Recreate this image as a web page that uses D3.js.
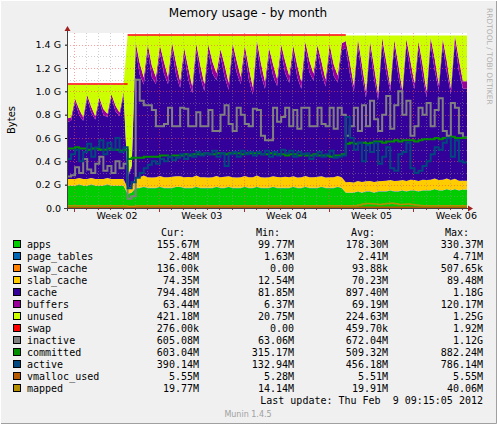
<!DOCTYPE html>
<html>
<head>
<meta charset="utf-8">
<script src="https://cdn.jsdelivr.net/npm/d3@7"></script>
<style>
  body { margin: 0; background: #f0f0f0; }
  svg { display: block; }
  text { font-family: "DejaVu Sans", sans-serif; }
  .mono { font-family: "DejaVu Sans Mono", monospace; font-size: 10px; fill: #000; }
</style>
</head>
<body>
<div id="chart"></div>
<script>
// samples every 1/3 day, values in G
// seg1 (15) | switch (2) | seg2 (52) | seg3 (30)
const apps = [
  .19,.19,.19,.20,.19,.19,.20,.19,.19,.19,.20,.19,.19,.19,.19,
  .12,.13,
  .17,.17,.18,.17,.17,.17,.18,.17,.17,.17, .18,.18,.17,.17,.17,.18,.17,.17,.17,.17,
  .18,.17,.17,.18,.17,.17,.17,.18,.17,.17, .18,.17,.17,.17,.18,.17,.17,.17,.17,.18,
  .17,.17,.18,.17,.17,.17,.18,.17,.17,.17, .18,.17,
  .13,.13,.13,.14,.13,.14,.14,.13,.14,.14, .14,.15,.14,.14,.15,.14,.15,.15,.14,.15,
  .15,.15,.16,.15,.15,.16,.15,.16,.15,.156
];
const page_tables = [
  .003,.003,.003,.003,.003,.003,.003,.003,.003,.003,.003,.003,.003,.003,.003,
  .002,.002,
  .003,.003,.003,.003,.003,.003,.003,.003,.003,.003, .003,.003,.003,.003,.003,.003,.003,.003,.003,.003,
  .003,.003,.003,.003,.003,.003,.003,.003,.003,.003, .003,.003,.003,.003,.003,.003,.003,.003,.003,.003,
  .003,.003,.003,.003,.003,.003,.003,.003,.003,.003, .003,.003,
  .003,.003,.003,.003,.003,.003,.003,.003,.003,.003, .003,.003,.003,.003,.003,.003,.003,.003,.003,.003,
  .003,.003,.003,.003,.003,.003,.003,.003,.003,.0025
];
const swap_cache = [
  0,0,0,0,0,0,0,0,0,0,0,0,0,0,0,
  0,0,
  .0001,.0001,.0001,.0001,.0001,.0001,.0001,.0001,.0001,.0001, .0001,.0001,.0001,.0001,.0001,.0001,.0001,.0001,.0001,.0001,
  .0001,.0001,.0001,.0001,.0001,.0001,.0001,.0001,.0001,.0001, .0001,.0001,.0001,.0001,.0001,.0001,.0001,.0001,.0001,.0001,
  .0001,.0001,.0001,.0001,.0001,.0001,.0001,.0001,.0001,.0001, .0001,.0001,
  .0001,.0001,.0001,.0001,.0001,.0001,.0001,.0001,.0001,.0001, .0001,.0001,.0001,.0001,.0001,.0001,.0001,.0001,.0001,.0001,
  .0001,.0001,.0001,.0001,.0001,.0001,.0001,.0001,.0001,.0001
];
const slab_cache = [
  .055,.055,.056,.055,.055,.056,.055,.055,.055,.056,.055,.055,.056,.055,.055,
  .05,.05,
  .09,.09,.095,.09,.088,.09,.092,.09,.09,.095, .09,.088,.09,.092,.09,.095,.09,.09,.088,.09,
  .092,.09,.095,.09,.09,.088,.09,.092,.09,.09, .095,.09,.088,.09,.09,.092,.09,.095,.09,.09,
  .088,.09,.092,.09,.09,.095,.09,.088,.09,.09, .092,.09,
  .088,.09,.086,.088,.09,.087,.088,.09,.086,.088, .09,.087,.088,.09,.086,.088,.09,.087,.088,.09,
  .086,.088,.09,.087,.088,.09,.086,.088,.08,.074
];
const cache = [
  .49,.50,.66,.54,.50,.69,.56,.51,.67,.55,.52,.70,.58,.54,.72,
  .09,.16,
  1.10,.88,.78, 1.08,.86,.80, 1.06,.89,.80, 1.09,.87,.76, 1.05,.84,.72, 1.07,.86,.74,
  1.08,.89,.82, 1.04,.86,.74, 1.09,.90,.80, 1.06,.84,.71, 1.10,.88,.76, 1.05,.86,.78,
  1.08,.89,.81, 1.06,.86,.76, 1.09,.90,.83, 1.07,.88,.78, 1.08,.87,.80, 1.09,
  1.15,.93,.78, 1.16,.91,.72, 1.14,.89,.70, 1.17,.93,.76, 1.15,.90,.72,
  1.16,.92,.78, 1.14,.89,.71, 1.16,.93,.77, 1.15,.91,.74, 1.17,.94,.79
];
const buffers = [
  .03,.03,.03,.05,.03,.03,.05,.03,.03,.05,.03,.03,.05,.03,.03,
  .01,.02,
  .06,.10,.06, .06,.10,.06, .06,.10,.06, .06,.10,.06, .06,.10,.06, .06,.10,.06,
  .06,.10,.06, .06,.10,.06, .06,.10,.06, .06,.10,.06, .06,.10,.06, .06,.10,.06,
  .06,.10,.06, .06,.10,.06, .06,.10,.06, .06,.10,.06, .06,.10,.06, .06,
  .06,.10,.05, .06,.10,.05, .06,.10,.05, .06,.10,.05, .06,.10,.05,
  .06,.10,.05, .06,.10,.05, .06,.10,.05, .06,.10,.05, .06,.10,.063
];
const swap = [
  .0015,.0015,.0015,.0015,.0015,.0015,.0015,.0015,.0015,.0015,.0015,.0015,.0015,.0015,.0015,
  .0015,.0015,
  .0015,.0015,.0015,.0015,.0015,.0015,.0015,.0015,.0015,.0015, .0015,.0015,.0015,.0015,.0015,.0015,.0015,.0015,.0015,.0015,
  .0015,.0015,.0015,.0015,.0015,.0015,.0015,.0015,.0015,.0015, .0015,.0015,.0015,.0015,.0015,.0015,.0015,.0015,.0015,.0015,
  .0015,.0015,.0015,.0015,.0015,.0015,.0015,.0015,.0015,.0015, .0015,.0015,
  0,0,0,0,0,0,0,0,0,0, 0,0,0,0,0,0,0,0,0,0, 0,0,0,0,0,0,0,0,0,0
];
// physical RAM before / after the upgrade, and the sample where it changes
const ramTotal = [1.057, 1.478];
const ramChangeAt = 15;

const inactive = [
  .27,.28,.35,.30,.42,.33,.30,.38,.44,.32,.36,.30,.40,.34,.38,
  .08,.10,
  1.10,.92,.88,.88,.84,.70,.70,.72,.86,.70, .70,.86,.85,.70,.70,.82,.70,.70,.84,.66,
  .66,.80,.88,.72,.66,.86,.80,.72,.70,.85, .84,.62,.58,.58,.86,.74,.78,.86,.70,.84,
  .68,.86,.86,.70,.70,.86,.72,.70,.86,.68, .86,.80,
  .62,.70,.86,.66,.88,.70,.92,.76,.66,.80, .96,.68,.88,1.0,.80,.92,.62,.70,.86,.80,
  .90,.70,.84,.94,.66,.62,.90,.86,.64,.605
];
const committed = [
  .51,.51,.52,.51,.51,.50,.51,.51,.50,.50,.51,.50,.50,.49,.50,
  .42,.43,
  .43,.43,.44,.44,.44,.44,.45,.45,.44,.45, .45,.45,.46,.45,.46,.46,.46,.47,.46,.46,
  .47,.47,.46,.47,.47,.47,.46,.47,.47,.47, .47,.46,.46,.47,.46,.46,.46,.45,.46,.46,
  .45,.46,.45,.45,.46,.45,.45,.45,.44,.45, .45,.46,
  .55,.56,.55,.56,.56,.55,.56,.57,.57,.56, .57,.57,.58,.57,.58,.58,.58,.57,.58,.59,
  .59,.59,.60,.59,.60,.60,.61,.60,.60,.603
];
const active = [
  .42,.46,.50,.40,.48,.55,.44,.52,.58,.46,.56,.50,.60,.48,.52,
  .17,.22,
  .26,.30,.34,.37,.40,.38,.42,.40,.44,.41, .43,.46,.42,.46,.44,.48,.45,.47,.46,.49,
  .44,.47,.36,.46,.48,.44,.49,.46,.48,.45, .48,.46,.49,.44,.48,.45,.50,.47,.49,.44,
  .48,.46,.47,.42,.45,.48,.44,.46,.49,.43, .44,.45,
  .78,.60,.50,.56,.40,.54,.48,.56,.38,.44, .52,.34,.32,.46,.48,.56,.34,.30,.32,.36,
  .40,.46,.52,.50,.56,.60,.44,.58,.40,.39
];
const vmalloc_used = [
  .0053,.0053,.0053,.0053,.0053,.0053,.0053,.0053,.0053,.0053,.0053,.0053,.0053,.0053,.0053,
  .0055,.0055,
  .0055,.0055,.0055,.0055,.0055,.0055,.0055,.0055,.0055,.0055, .0055,.0055,.0055,.0055,.0055,.0055,.0055,.0055,.0055,.0055,
  .0055,.0055,.0055,.0055,.0055,.0055,.0055,.0055,.0055,.0055, .0055,.0055,.0055,.0055,.0055,.0055,.0055,.0055,.0055,.0055,
  .0055,.0055,.0055,.0055,.0055,.0055,.0055,.0055,.0055,.0055, .0055,.0055,
  .0055,.0055,.0055,.0055,.0055,.0055,.0055,.0055,.0055,.0055, .0055,.0055,.0055,.0055,.0055,.0055,.0055,.0055,.0055,.0055,
  .0055,.0055,.0055,.0055,.0055,.0055,.0055,.0055,.0055,.0055
];
const mapped = [
  .020,.020,.020,.020,.020,.020,.020,.020,.020,.020,.020,.020,.020,.020,.020,
  .015,.015,
  .019,.019,.019,.019,.019,.019,.019,.019,.019,.019, .019,.019,.019,.019,.019,.019,.019,.019,.019,.019,
  .019,.019,.019,.019,.019,.019,.019,.019,.019,.019, .019,.019,.019,.019,.019,.019,.019,.019,.019,.019,
  .019,.019,.019,.019,.019,.019,.019,.019,.019,.019, .019,.019,
  .020,.020,.020,.025,.035,.038,.036,.035,.030,.035, .038,.040,.036,.030,.032,.035,.030,.025,.022,.020,
  .020,.020,.020,.020,.020,.020,.020,.020,.020,.0198
];

const stackKeys = ["apps","page_tables","swap_cache","slab_cache","cache","buffers","unused","swap"];
const lineKeys = ["inactive","committed","active","vmalloc_used","mapped"];
const colors = {
  apps:"#00CC00", page_tables:"#0066B3", swap_cache:"#FF8000", slab_cache:"#FFCC00",
  cache:"#330099", buffers:"#990099", unused:"#CCFF00", swap:"#FF0000",
  inactive:"#808080", committed:"#008F00", active:"#00487D", vmalloc_used:"#B35A00", mapped:"#B38F00"
};
const legendRows = [
  ["apps","155.67M","99.77M","178.30M","330.37M"],
  ["page_tables","2.48M","1.63M","2.41M","4.71M"],
  ["swap_cache","136.00k","0.00","93.88k","507.65k"],
  ["slab_cache","74.35M","12.54M","70.23M","89.48M"],
  ["cache","794.48M","81.85M","897.40M","1.18G"],
  ["buffers","63.44M","6.37M","69.19M","120.17M"],
  ["unused","421.18M","20.75M","224.63M","1.25G"],
  ["swap","276.00k","0.00","459.70k","1.92M"],
  ["inactive","605.08M","63.06M","672.04M","1.12G"],
  ["committed","603.04M","315.17M","509.32M","882.24M"],
  ["active","390.14M","132.94M","456.18M","786.14M"],
  ["vmalloc_used","5.55M","5.28M","5.51M","5.55M"],
  ["mapped","19.77M","14.14M","19.91M","40.06M"]
];
const weekLabels = ["Week 02","Week 03","Week 04","Week 05","Week 06"];
const firstWeekStart = 0.58;  // day of first week boundary
const yTicks = [0,0.2,0.4,0.6,0.8,1.0,1.2,1.4];
const yTickLabels = ["0.0","0.2 G","0.4 G","0.6 G","0.8 G","1.0 G","1.2 G","1.4 G"];

const width = 497, height = 424;
const svg = d3.select("#chart").append("svg").attr("width", width).attr("height", height);
svg.append("rect").attr("width", width).attr("height", height).attr("fill", "#f0f0f0");
svg.append("path").attr("d", `M0,${height-0.5}H${width-0.5}V0`).attr("stroke", "#a0a0a0").attr("fill", "none");
svg.append("path").attr("d", `M0.5,${height}V0.5H${width}`).attr("stroke", "#ffffff").attr("fill", "none");

const x = d3.scaleLinear().domain([0, 33]).range([67, 467]);
const y = d3.scaleLinear().domain([0, 1.5]).range([208, 33]);

svg.append("rect").attr("x", 67).attr("y", 33).attr("width", 400).attr("height", 175).attr("fill", "#fff");

const series = {apps, page_tables, swap_cache, slab_cache, cache, buffers, swap,
                inactive, committed, active, vmalloc_used, mapped};
const N = d3.min(Object.values(series), a => a.length);
const rows = d3.range(N).map(i => {
  const r = {day: i / 3, seg: i < ramChangeAt ? 0 : 1};
  Object.keys(series).forEach(k => r[k] = series[k][i]);
  const used = r.apps + r.page_tables + r.swap_cache + r.slab_cache + r.cache + r.buffers;
  r.unused = ramTotal[r.seg] - used;
  return r;
});
rows.push(Object.assign({}, rows[N - 1], {day: 33}));

const stacked = d3.stack().keys(stackKeys)(rows);
const area = d3.area().curve(d3.curveLinear)
  .x(d => x(d.data.day)).y0(d => y(d[0])).y1(d => y(d[1]));
svg.append("g").selectAll("path").data(stacked.filter(s => s.key !== "swap")).join("path")
  .attr("fill", s => colors[s.key]).attr("d", area);

// swap is tiny: draw its top edge, one piece per RAM size, where it is non zero
const swapSeries = stacked.find(s => s.key === "swap");
const swapLine = d3.line().x(d => x(d.data.day)).y(d => y(d[1]) - 0.5);
[0, 1].forEach(seg => {
  const pts = swapSeries.filter(d => d.data.seg === seg && d.data.swap > 0);
  if (pts.length) {
    const last = pts[pts.length - 1];
    const ext = Object.assign([last[0], last[1]], {data: Object.assign({}, last.data, {day: last.data.day + 1/3})});
    svg.append("path").datum(pts.concat([ext])).attr("fill", "none")
      .attr("stroke", colors.swap).attr("stroke-width", 1.5).attr("d", swapLine);
  }
});

// grid on top of data, like rrdtool
const grid = svg.append("g").attr("stroke-dasharray", "1,2").attr("stroke-width", 1);
d3.range(0.1, 1.5, 0.1).forEach(v => {
  const major = Math.abs(Math.round(v * 10) % 2) === 0;
  grid.append("line").attr("x1", 67).attr("x2", 467).attr("y1", Math.round(y(v)) + 0.5).attr("y2", Math.round(y(v)) + 0.5)
    .attr("stroke", major ? "rgba(255,80,80,0.55)" : "rgba(150,150,150,0.45)");
});
d3.range(firstWeekStart, 33, 1).forEach((d, k) => {
  const major = k % 7 === 0;
  grid.append("line").attr("y1", 33).attr("y2", 208).attr("x1", Math.round(x(d)) + 0.5).attr("x2", Math.round(x(d)) + 0.5)
    .attr("stroke", major ? "rgba(255,80,80,0.55)" : "rgba(150,150,150,0.45)");
});

const line = k => d3.line().curve(d3.curveStepAfter).x(d => x(d.day)).y(d => y(d[k]));
lineKeys.forEach(k => {
  svg.append("path").datum(rows).attr("fill", "none").attr("stroke", colors[k])
    .attr("stroke-width", (k === "vmalloc_used" || k === "mapped") ? 1.5 : 2)
    .attr("d", line(k));
});

// axes
const yAxis = svg.append("g").attr("transform", "translate(67,0)")
  .call(d3.axisLeft(y).tickValues(yTicks).tickFormat((d, i) => yTickLabels[i]).tickSize(2).tickPadding(4));
yAxis.select(".domain").remove();
yAxis.selectAll("text").attr("font-size", 9.5).attr("font-family", "DejaVu Sans");
const xAxis = svg.append("g").attr("transform", "translate(0,208)")
  .call(d3.axisBottom(x).tickValues(weekLabels.map((w, i) => firstWeekStart + 7 * i + 3.5))
    .tickFormat((d, i) => weekLabels[i]).tickSize(0).tickPadding(4));
xAxis.select(".domain").remove();
xAxis.selectAll("text").attr("font-size", 9.5).attr("font-family", "DejaVu Sans");
svg.append("g").selectAll("line").data(d3.range(firstWeekStart, 33, 1)).join("line")
  .attr("x1", d => Math.round(x(d)) + 0.5).attr("x2", d => Math.round(x(d)) + 0.5)
  .attr("y1", 208).attr("y2", d => ((Math.round(d - firstWeekStart) % 7) === 0) ? 212 : 210)
  .attr("stroke", "#a03030");
svg.append("line").attr("x1", 64).attr("x2", 468).attr("y1", 208.5).attr("y2", 208.5).attr("stroke", "#404040");
svg.append("line").attr("x1", 67.5).attr("x2", 67.5).attr("y1", 211).attr("y2", 30).attr("stroke", "#404040");
svg.append("path").attr("d", "M468,205.5L473,208.5L468,211.5Z").attr("fill", "#a02020");
svg.append("path").attr("d", "M64.5,31L67.5,26L70.5,31Z").attr("fill", "#a02020");

// titles
svg.append("text").attr("x", 248).attr("y", 17).attr("text-anchor", "middle").attr("font-size", 12).text("Memory usage - by month");
svg.append("text").attr("transform", "translate(15,120) rotate(-90)").attr("text-anchor", "middle").attr("font-size", 10).text("Bytes");
svg.append("text").attr("transform", "translate(487,8) rotate(90)").attr("font-size", 7.5).attr("fill", "#b0b0b0").text("RRDTOOL / TOBI OETIKER");

// legend
const colEnds = [199, 294, 388, 483];
const headEnds = [185, 280, 375, 469];
["Cur:","Min:","Avg:","Max:"].forEach((h, i) =>
  svg.append("text").attr("class", "mono").attr("x", headEnds[i]).attr("y", 236).attr("text-anchor", "end").text(h));
legendRows.forEach((r, j) => {
  const yy = 248 + j * 12;
  svg.append("rect").attr("x", 13.5).attr("y", yy - 7.5).attr("width", 7).attr("height", 7)
    .attr("fill", colors[r[0]]).attr("stroke", "#000");
  svg.append("text").attr("class", "mono").attr("x", 27).attr("y", yy).text(r[0]);
  r.slice(1).forEach((v, i) =>
    svg.append("text").attr("class", "mono").attr("x", colEnds[i]).attr("y", yy).attr("text-anchor", "end").text(v));
});
svg.append("text").attr("class", "mono").attr("x", 483).attr("y", 404).attr("text-anchor", "end")
  .style("white-space", "pre").text("Last update: Thu Feb  9 09:15:05 2012");
svg.append("text").attr("x", 248).attr("y", 417).attr("text-anchor", "middle").attr("font-size", 8).attr("fill", "#a0a0a0").text("Munin 1.4.5");
</script>
</body>
</html>
